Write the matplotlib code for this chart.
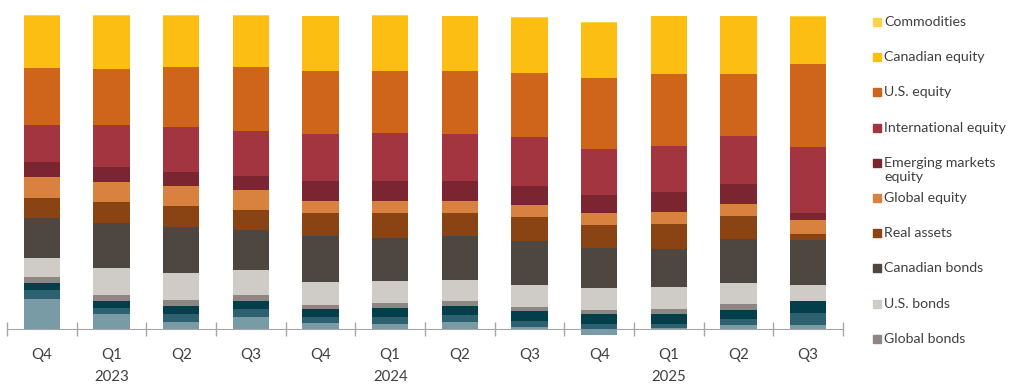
import numpy as np
import matplotlib.pyplot as plt
from matplotlib.patches import Rectangle

# -----------------------------
# Data (% of portfolio)
# -----------------------------
quarters = ["Q4", "Q1\n2023", "Q2", "Q3", "Q4", "Q1\n2024", "Q2", "Q3",
            "Q4", "Q1\n2025", "Q2", "Q3"]

# bottom series are not named in the visible legend
teal_light = [9.7, 4.8, 2.4, 3.9, 2.2, 1.9, 2.5, 0.7, -1.7, 0.4, 1.4, 1.3]
teal_mid = [2.8, 2.0, 2.5, 2.7, 1.7, 2.2, 2.1, 2.1, 1.8, 1.4, 1.9, 4.0]
teal_dark = [2.2, 2.3, 2.6, 2.3, 2.5, 2.8, 2.9, 3.0, 3.1, 3.2, 3.0, 3.8]
global_bonds = [2.0, 2.0, 2.0, 2.1, 1.4, 1.4, 1.4, 1.4, 1.3, 1.4, 1.7, 0.0]
us_bonds = [5.9, 8.5, 8.3, 7.9, 7.3, 7.1, 6.9, 6.9, 6.9, 7.0, 6.9, 5.0]
canadian_bonds = [12.9, 14.3, 14.8, 12.6, 14.6, 13.8, 13.9, 14.0, 12.9, 12.3, 13.8, 14.5]
real_assets = [6.4, 6.5, 6.7, 6.5, 7.4, 7.8, 7.4, 7.6, 7.1, 7.8, 7.5, 1.8]
global_equity = [6.6, 6.5, 6.3, 6.4, 3.9, 3.7, 3.9, 3.8, 3.8, 3.8, 3.7, 4.3]
em_equity = [4.8, 4.8, 4.5, 4.5, 6.1, 6.6, 6.1, 6.1, 5.8, 6.5, 6.4, 2.4]
intl_equity = [11.7, 13.3, 14.4, 14.3, 15.2, 15.2, 15.2, 15.6, 14.8, 14.7, 15.3, 20.8]
us_equity = [18.1, 17.8, 18.9, 20.3, 19.8, 19.8, 19.8, 20.3, 22.4, 22.8, 19.7, 26.4]
canadian_equity = [16.6, 16.9, 16.3, 16.3, 17.5, 17.5, 17.5, 17.7, 17.7, 18.3, 18.3, 15.2]
commodities = [0.2, 0.2, 0.2, 0.2, 0.2, 0.2, 0.2, 0.2, 0.2, 0.2, 0.2, 0.2]

# stacking order, bottom to top
series = [
    (None, teal_light, "#789BA5"),
    (None, teal_mid, "#2D6170"),
    (None, teal_dark, "#033F4A"),
    ("Global bonds", global_bonds, "#8C8782"),
    ("U.S. bonds", us_bonds, "#CFCCC8"),
    ("Canadian bonds", canadian_bonds, "#4E4640"),
    ("Real assets", real_assets, "#8A4413"),
    ("Global equity", global_equity, "#D9823F"),
    ("Emerging markets\nequity", em_equity, "#7A2530"),
    ("International equity", intl_equity, "#A33540"),
    ("U.S. equity", us_equity, "#CF651B"),
    ("Canadian equity", canadian_equity, "#FCBE12"),
    ("Commodities", commodities, "#F9D447"),
]

plt.rcParams["font.family"] = ["Lato", "DejaVu Sans"]

fig = plt.figure(figsize=(10.24, 3.92), dpi=100)
ax = fig.add_axes([7 / 1024, 1 - 345.2 / 392, 836 / 1024, (345.2 - 8.7) / 392])

x = np.arange(len(quarters))
pos_base = np.zeros(len(quarters))
neg_base = np.zeros(len(quarters))

for label, values, color in series:
    v = np.array(values, dtype=float)
    bottom = np.where(v >= 0, pos_base, neg_base)
    ax.bar(x, v, bottom=bottom, width=0.52, color=color, linewidth=0)
    pos_base = pos_base + np.clip(v, 0, None)
    neg_base = neg_base + np.clip(v, None, 0)

ax.set_xlim(-0.5, len(quarters) - 0.5)
ax.set_ylim(-5, 102)

# -----------------------------
# Axis styling
# -----------------------------
for side in ["top", "right", "left"]:
    ax.spines[side].set_visible(False)
ax.spines["bottom"].set_position(("data", 0))
ax.spines["bottom"].set_color("#A6A6A6")
ax.spines["bottom"].set_zorder(0)
ax.set_yticks([])

ax.set_xticks(x)
ax.set_xticklabels(quarters, fontsize=10.8, color="#404040", linespacing=1.8)
ax.tick_params(axis="x", which="major", length=0, pad=13)
ax.set_xticks(np.arange(-0.5, len(quarters)), minor=True)
ax.tick_params(axis="x", which="minor", length=10, direction="inout",
               color="#A6A6A6", width=1)

# -----------------------------
# Legend (top entry first)
# -----------------------------
legend_items = [(l, c) for l, _, c in series if l is not None][::-1]
for i, (label, color) in enumerate(legend_items):
    y_px = 22 + 35.2 * i
    fig.patches.append(Rectangle((873 / 1024, 1 - (y_px + 4) / 392), 8 / 1024, 8 / 392,
                                 transform=fig.transFigure, color=color))
    fig.text(884 / 1024, 1 - (y_px - 6) / 392, label, fontsize=10.2,
             color="#404040", va="top", ha="left", linespacing=1.2)

fig.savefig("out.png", dpi=100)
